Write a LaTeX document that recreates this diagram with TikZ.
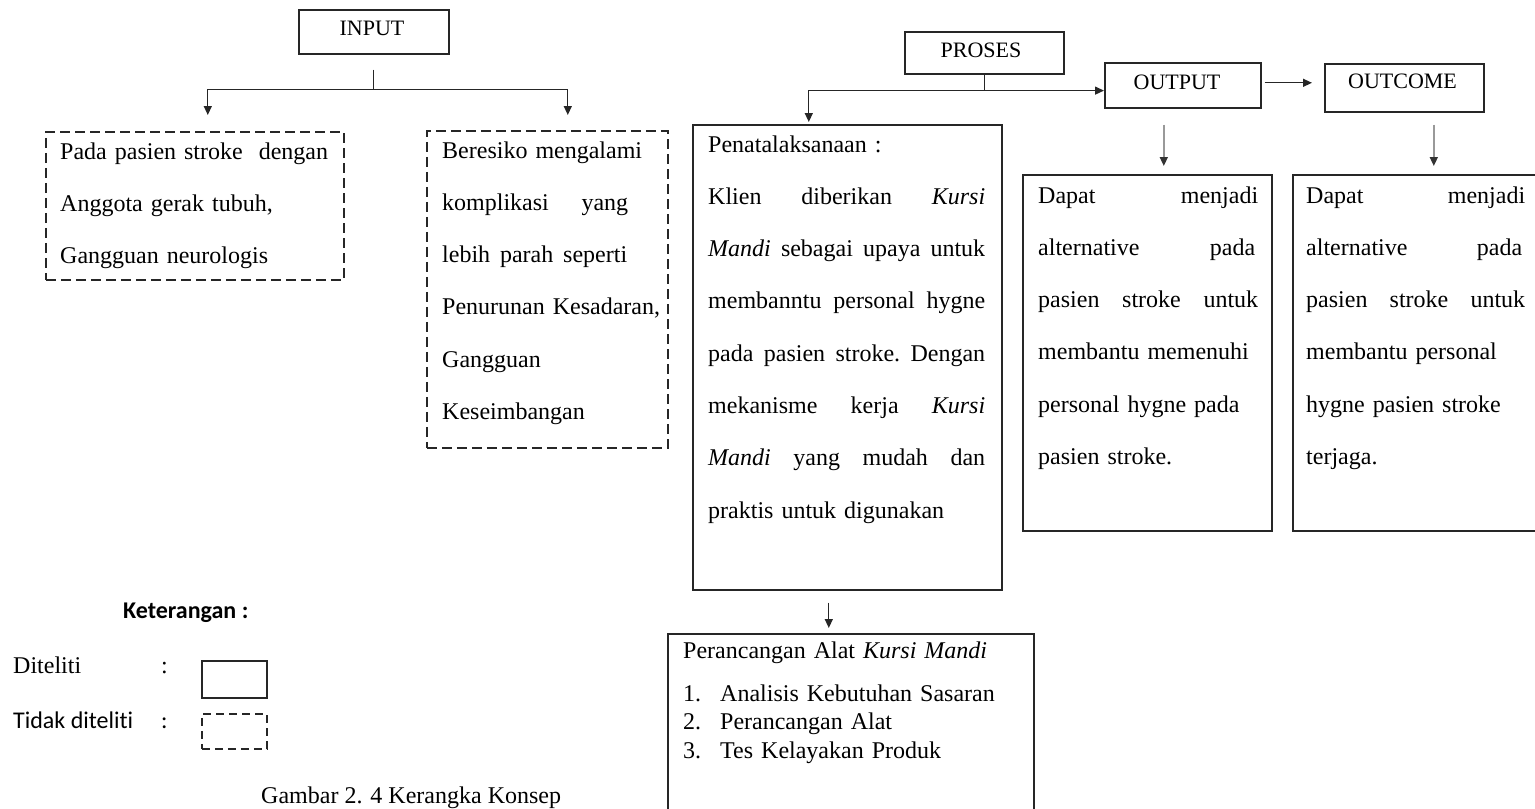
\documentclass[tikz,border=0pt]{standalone}
\usepackage{fontspec}
\setmainfont{Liberation Serif}
\newfontfamily\carlito[Ligatures=NoCommon]{Carlito}
\usetikzlibrary{arrows.meta,calc}
\newcommand\jl[2]{\leavevmode\hbox to #1{#2}}
\begin{document}
\begin{tikzpicture}[x=1pt,y=-1pt,
  solidbox/.style={draw=black!85, line width=1.6pt, inner sep=0pt, anchor=north west},
  dashbox/.style={solidbox, dash pattern=on 10pt off 5pt},
  lbl/.style={font=\fontsize{22}{26}\selectfont, anchor=base, inner sep=0pt},
  body/.style={font=\fontsize{24}{52.3}\selectfont, anchor=base west, inner sep=0pt, align=left},
  lst/.style={font=\fontsize{24}{28.5}\selectfont, anchor=base west, inner sep=0pt, align=left},
  plain/.style={line width=1.3pt, draw=black!85},
  arr/.style={plain, -{Triangle[width=8pt,length=9pt]}},
  garr/.style={line width=1.6pt, draw=black!40, -{Triangle[width=8pt,length=9pt,color=black!80]}},
]
\useasboundingbox (0,0) rectangle (1535,809);

% boxes
\node[solidbox, minimum width=150pt, minimum height=44pt] (input) at (298,9) {};
\node[lbl] (inputT) at (372,35) {INPUT};
\node[dashbox, minimum width=298pt, minimum height=148pt] (b1) at (45,131) {};
\node[dashbox, minimum width=241pt, minimum height=317pt] (b2) at (426,130) {};
\node[solidbox, minimum width=159pt, minimum height=42pt] (proses) at (904,31) {};
\node[lbl] (prosesT) at (981,57) {PROSES};
\node[solidbox, minimum width=156pt, minimum height=45pt] (outp) at (1104,62) {};
\node[lbl] (outpT) at (1177,89) {OUTPUT};
\node[solidbox, minimum width=159pt, minimum height=48pt] (outc) at (1324,63) {};
\node[lbl] (outcT) at (1402.5,88) {OUTCOME};
\node[solidbox, minimum width=309pt, minimum height=465pt] (bp) at (692,124) {};
\node[solidbox, minimum width=249pt, minimum height=356pt] (o1) at (1022,174) {};
\node[solidbox, minimum width=250pt, minimum height=356pt] (o2) at (1292,174) {};
\node[solidbox, minimum width=366pt, minimum height=200pt] (bb) at (667,633) {};

% texts
\node[body, text width=280pt] (b1t) at (60,159)
  {Pada pasien stroke\ \ dengan\\Anggota gerak tubuh,\\Gangguan neurologis};
\node[body, text width=222pt] (b2t) at (442,158)
  {Beresiko mengalami\\\jl{186pt}{komplikasi\hfill yang}\\\jl{185pt}{lebih\hfill parah\hfill seperti}\\Penurunan Kesadaran,\\Gangguan\\Keseimbangan};
\node[body, text width=280pt] (bpt) at (708,152)
  {Penatalaksanaan :\\
   \jl{277pt}{Klien\hfill diberikan\hfill\textit{Kursi}}\\
   \jl{277pt}{\textit{Mandi}\hfill sebagai\hfill upaya\hfill untuk}\\
   \jl{277pt}{membanntu\hfill personal\hfill hygne}\\
   \jl{277pt}{pada\hfill pasien\hfill stroke.\hfill Dengan}\\
   \jl{277pt}{mekanisme\hfill kerja\hfill\textit{Kursi}}\\
   \jl{277pt}{\textit{Mandi}\hfill yang\hfill mudah\hfill dan}\\
   praktis untuk digunakan};
\node[body, text width=222pt] (o1t) at (1038,203)
  {\jl{220pt}{Dapat\hfill menjadi}\\\jl{217pt}{alternative\hfill pada}\\\jl{220pt}{pasien\hfill stroke\hfill untuk}\\membantu memenuhi\\personal hygne pada\\pasien stroke.};
\node[body, text width=222pt] (o2t) at (1306,203)
  {\jl{219pt}{Dapat\hfill menjadi}\\\jl{216pt}{alternative\hfill pada}\\\jl{219pt}{pasien\hfill stroke\hfill untuk}\\membantu personal\\hygne pasien stroke\\terjaga.};
\node[body, text width=340pt] (bbh) at (683,658) {Perancangan Alat \textit{Kursi Mandi}};
\node[lst, text width=340pt] (bbl) at (683,701)
  {\makebox[37pt][l]{1.}Analisis Kebutuhan Sasaran\\
   \makebox[37pt][l]{2.}Perancangan Alat\\
   \makebox[37pt][l]{3.}Tes Kelayakan Produk};

% legend
\node[font=\carlito\bfseries\fontsize{24}{28}\selectfont, anchor=base west, inner sep=0pt] (ket) at (123,618) {Keterangan :};
\node[font=\fontsize{24}{28}\selectfont, anchor=base west, inner sep=0pt] (dit) at (13,673) {Diteliti};
\node[font=\fontsize{24}{28}\selectfont, anchor=base west, inner sep=0pt] (ditc) at (161,673) {:};
\node[font=\carlito\fontsize{24}{28}\selectfont, anchor=base west, inner sep=0pt] (tdit) at (13,728) {Tidak diteliti};
\node[font=\carlito\fontsize{24}{28}\selectfont, anchor=base west, inner sep=0pt] (tditc) at (161,728) {:};
\node[solidbox, minimum width=65pt, minimum height=37pt] (legS) at (201,660) {};
\node[solidbox, dash pattern=on 8pt off 5pt, minimum width=65pt, minimum height=35pt] (legD) at (201,713) {};
\node[font=\fontsize{24}{28}\selectfont, anchor=base west, inner sep=0pt] (cap) at (261,803) {Gambar 2. 4 Kerangka Konsep};

% connectors
\coordinate (inS) at ([yshift=-15pt]input.south);
\coordinate (inJ) at ([yshift=-35pt]input.south);
\coordinate (b1tip) at ([xshift=13pt,yshift=16pt]b1.north);
\coordinate (b2tip) at ([xshift=20.5pt,yshift=15pt]b2.north);
\draw[plain] (inS) -- (inJ);
\draw[arr] (inJ) -| (b1tip);
\draw[arr] (inJ) -| (b2tip);

\coordinate (pj) at ([yshift=-16pt]proses.south);
\coordinate (bptip) at ([xshift=-38.5pt,yshift=2pt]bp.north);
\draw[plain] (proses.south) -- (pj);
\draw[arr] (pj) -- (pj -| outp.west);
\draw[arr] (pj) -| (bptip);

\coordinate (oa) at ([xshift=3pt,yshift=2.5pt]outp.east);
\coordinate (ob) at ($(oa -| outc.west)+(-12,0)$);
\draw[arr] (oa) -- (ob);

\draw[garr] ([xshift=-19pt,yshift=-16pt]outp.south) -- ([xshift=16.5pt,yshift=8pt]o1.north);
\draw[garr] ([xshift=29.5pt,yshift=-12pt]outc.south) -- ([xshift=16pt,yshift=8pt]o2.north);
\draw[arr] ([xshift=-18.5pt,yshift=-12pt]bp.south) -- ([xshift=-22pt,yshift=5pt]bb.north);
\end{tikzpicture}
\end{document}
